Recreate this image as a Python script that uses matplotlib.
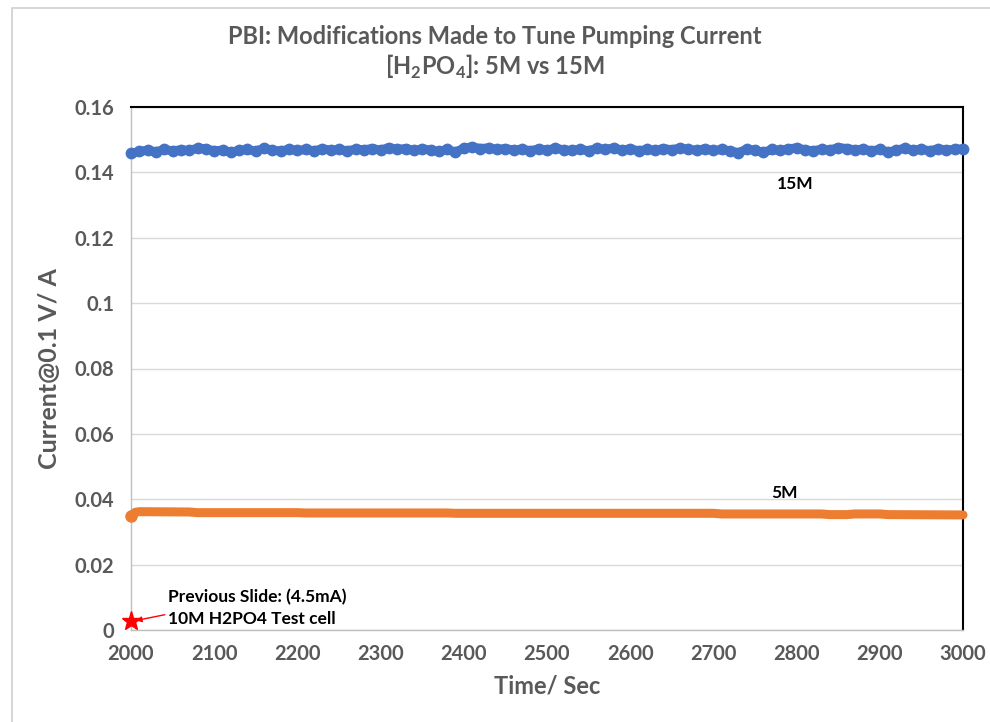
import numpy as np
import matplotlib
matplotlib.use("Agg")
import matplotlib.pyplot as plt
from matplotlib.patches import Rectangle

# ---- data ----
time_15m = list(range(2000, 3001, 10))
current_15m = [
    0.1458, 0.1464, 0.1468, 0.1463, 0.1470, 0.1466, 0.1469, 0.1467, 0.1474, 0.1472,
    0.1466, 0.1468, 0.1462, 0.1467, 0.1470, 0.1465, 0.1474, 0.1468, 0.1465, 0.1471,
    0.1467, 0.1470, 0.1466, 0.1472, 0.1468, 0.1470, 0.1466, 0.1471, 0.1469, 0.1473,
    0.1468, 0.1476, 0.1470, 0.1473, 0.1467, 0.1472, 0.1468, 0.1464, 0.1470, 0.1462,
    0.1474, 0.1478, 0.1473, 0.1475, 0.1470, 0.1473, 0.1468, 0.1471, 0.1466, 0.1472,
    0.1468, 0.1474, 0.1469, 0.1467, 0.1471, 0.1466, 0.1474, 0.1470, 0.1475, 0.1468,
    0.1472, 0.1466, 0.1470, 0.1467, 0.1473, 0.1469, 0.1475, 0.1470, 0.1468, 0.1472,
    0.1467, 0.1470, 0.1466, 0.1460, 0.1471, 0.1468, 0.1461, 0.1470, 0.1467, 0.1472,
    0.1475, 0.1469, 0.1466, 0.1471, 0.1468, 0.1476, 0.1473, 0.1469, 0.1471, 0.1466,
    0.1470, 0.1462, 0.1468, 0.1474, 0.1468, 0.1471, 0.1466, 0.1472, 0.1468, 0.1471,
    0.1472,
]

time_5m = [2000, 2005, 2010, 2070, 2080, 2200, 2210, 2380, 2390, 2700, 2710, 2830, 2840, 2860, 2870, 2900, 2910, 3000]
current_5m = [0.0349, 0.0360, 0.0362, 0.0361, 0.0359, 0.0359, 0.0358, 0.0358, 0.0357, 0.0357, 0.0355, 0.0355, 0.0353, 0.0353, 0.0355, 0.0355, 0.0353, 0.0352]

prev_time = [2000]
prev_current = [0.0028]

x_ticks = list(range(2000, 3001, 100))
y_ticks = [0, 0.02, 0.04, 0.06, 0.08, 0.1, 0.12, 0.14, 0.16]
y_tick_labels = ["0", "0.02", "0.04", "0.06", "0.08", "0.1", "0.12", "0.14", "0.16"]

title_text = "PBI: Modifications Made to Tune Pumping Current\n[H$_\\mathbf{2}$PO$_\\mathbf{4}$]: 5M vs 15M"

# ---- style ----
plt.rcParams['font.family'] = ['Lato', 'DejaVu Sans']
plt.rcParams['mathtext.fontset'] = 'custom'
plt.rcParams['mathtext.rm'] = 'Lato:bold'
plt.rcParams['mathtext.bf'] = 'Lato:bold'
gray = "#595959"

fig = plt.figure(figsize=(9.9, 7.22), dpi=100)
ax = fig.add_axes([131/990, 1-630/722, (963-131)/990, (630-107)/722])

# figure border
fig.patches.append(Rectangle((12/990, -0.01), 1.1, 1-8/722+0.01, transform=fig.transFigure,
                             fill=False, edgecolor="#d0d0d0", linewidth=1.2))

ax.plot(time_15m, current_15m, color="#4472C4", linewidth=6.5, marker="o",
        markersize=8.5, markeredgewidth=0, zorder=3, clip_on=False,
        solid_joinstyle="round", solid_capstyle="round")
ax.plot(time_5m, current_5m, color="#ED7D31", linewidth=6.5, solid_capstyle="round",
        zorder=3, clip_on=False)
ax.plot(time_5m[:1], current_5m[:1], color="#ED7D31", marker="o", markersize=8,
        linestyle="none", zorder=3, clip_on=False)
ax.plot(prev_time, prev_current, color="red", marker="*", markersize=14,
        linestyle="none", zorder=4, clip_on=False)

ax.set_xlim(2000, 3000)
ax.set_ylim(0, 0.16)
ax.set_xticks(x_ticks)
ax.set_yticks(y_ticks)
ax.set_yticklabels(y_tick_labels)
ax.tick_params(axis="both", length=0, labelsize=14.5, labelcolor=gray)
ax.tick_params(axis="x", pad=10)
ax.tick_params(axis="y", pad=12)
for lbl in ax.get_xticklabels() + ax.get_yticklabels():
    lbl.set_fontweight("bold")

ax.grid(axis="y", color="#d9d9d9", linewidth=1)
ax.set_axisbelow(True)
for s in ["left", "bottom"]:
    ax.spines[s].set_color("#bfbfbf")
    ax.spines[s].set_linewidth(1)
for s in ["top", "right"]:
    ax.spines[s].set_color("black")
    ax.spines[s].set_linewidth(1.5)

ax.set_xlabel("Time/ Sec", fontsize=17, fontweight="bold", color=gray, labelpad=8)
ax.set_ylabel("Current@0.1 V/ A", fontsize=18, fontweight="bold", color=gray, labelpad=10)
fig.text(0.5, 1-53/722, title_text, ha="center", va="center", fontsize=17,
         fontweight="bold", color=gray, linespacing=1.25)

ax.text(2798, 0.1365, "15M", ha="center", va="center", fontsize=12.5, fontweight="bold", color="black")
ax.text(2786, 0.0418, "5M", ha="center", va="center", fontsize=12.5, fontweight="bold", color="black")
ax.annotate("Previous Slide: (4.5mA)\n10M H2PO4 Test cell", xy=(2006, 0.0029), xytext=(2044, 0.0066),
            ha="left", va="center", fontsize=12.5, fontweight="bold", color="black", linespacing=1.45,
            arrowprops=dict(arrowstyle="-|>", color="red", lw=1, mutation_scale=8,
                            shrinkA=0, shrinkB=0,
                            relpos=(0.0, 0.35)))

fig.savefig("out.png", dpi=100)
